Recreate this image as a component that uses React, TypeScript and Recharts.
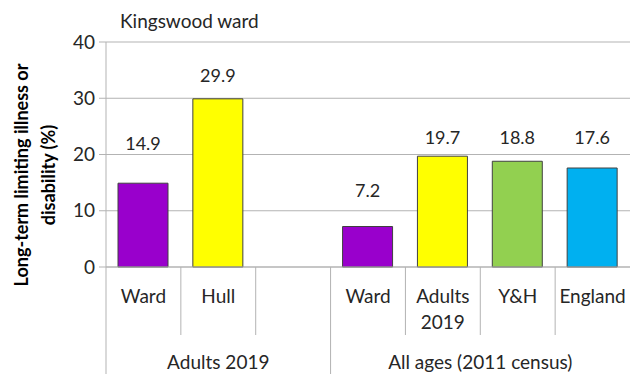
import React from 'react';
import { BarChart, Bar, XAxis, YAxis, CartesianGrid, Cell, LabelList, Label } from 'recharts';

// categories along the x axis ('' is the empty slot between the groups)
const categories = ['Ward', 'Hull', '', 'Ward', 'Adults\n2019', 'Y&H', 'England'];
const values = [14.9, 29.9, null, 7.2, 19.7, 18.8, 17.6];
// where each value label sits (in axis units) - placed by hand in the original
const labelLevels = [22, 34.1, null, 13.7, 23.1, 23.1, 23.1];
const barColors = ['#9900cc', '#ffff00', '#ffffff', '#9900cc', '#ffff00', '#92d050', '#00b0f0'];
const groups = [
    { name: 'Adults 2019', first: 0, size: 3 },
    { name: 'All ages (2011 census)', first: 3, size: 4 },
];
const yTicks = [0, 10, 20, 30, 40];

const W = 630;
const H = 374;
const TOP = 42;
const Y_AXIS_W = 106;
const X_AXIS_H = 107;
const PLOT_BOTTOM = H - X_AXIS_H;
const BAND = (W - Y_AXIS_W) / categories.length;
const FONT = 'Lato, "Open Sans", sans-serif';
const TEXT = '#262626';
const GRID = '#b3b3b3';

const data = categories.map((name, i) => ({ name: `c${i}`, value: values[i], level: labelLevels[i] }));

function CategoryTick(props: any) {
    const { x, payload } = props;
    const i = payload.index ?? props.index;
    const lines = categories[i].split('\n');
    const group = groups.find(g => g.first === i);
    const isLast = i === categories.length - 1;
    const nextStartsGroup = groups.some(g => g.first === i + 1);
    return (
        <g>
            {lines.map((l, k) => (
                <text key={k} x={x} y={295 + k * 26} textAnchor="middle" dominantBaseline="central"
                    fill={TEXT} fontSize={19} fontFamily={FONT}>{l}</text>
            ))}
            {!isLast && !nextStartsGroup && (
                <line x1={x + BAND / 2} x2={x + BAND / 2} y1={PLOT_BOTTOM} y2={335} stroke={GRID} />
            )}
            {group && (
                <>
                    <line x1={x - BAND / 2} x2={x - BAND / 2} y1={PLOT_BOTTOM} y2={H} stroke={GRID} />
                    <text x={x - BAND / 2 + (group.size * BAND) / 2} y={361} textAnchor="middle"
                        dominantBaseline="central" fill={TEXT} fontSize={19} fontFamily={FONT}>{group.name}</text>
                </>
            )}
        </g>
    );
}

function ValueLabel(props: any) {
    const { x, y, width, height, value } = props;
    if (value == null) return null;
    const i = values.indexOf(value);
    const unit = height / value;
    const ly = y + height - (labelLevels[i] ?? value) * unit;
    return (
        <text x={x + width / 2} y={ly} textAnchor="middle" dominantBaseline="central"
            fill={TEXT} fontSize={18} fontFamily={FONT}>{value}</text>
    );
}

export default function App() {
    return (
        <div style={{ position: 'absolute', left: 0, top: 0, width: W, height: H, background: '#fff' }}>
            <div style={{ position: 'absolute', left: 120, top: 9, fontFamily: FONT, fontSize: 19, color: TEXT, lineHeight: '24px' }}>
                Kingswood ward
            </div>
            <BarChart width={W} height={H} data={data} margin={{ top: TOP, right: 0, bottom: 0, left: 0 }}
                barSize={50}>
                <CartesianGrid vertical={false} stroke={GRID} />
                <XAxis dataKey="name" height={X_AXIS_H} axisLine={{ stroke: GRID }} tickLine={false}
                    interval={0} tick={<CategoryTick />} />
                <YAxis width={Y_AXIS_W} domain={[0, 40]} ticks={yTicks} interval={0}
                    axisLine={{ stroke: GRID }} tickLine={{ stroke: GRID }} tickSize={7} tickMargin={4}
                    tick={{ fill: TEXT, fontSize: 19, fontFamily: FONT }}>
                    <Label content={() => (
                        <g transform="translate(0, 175) rotate(-90)">
                            <text x={0} y={28} textAnchor="middle" fontWeight="bold" fontSize={18}
                                fontFamily={FONT} fill="#000">Long-term limiting illness or</text>
                            <text x={0} y={55} textAnchor="middle" fontWeight="bold" fontSize={18}
                                fontFamily={FONT} fill="#000">disability (%)</text>
                        </g>
                    )} />
                </YAxis>
                <Bar dataKey="value" stroke="#404040" strokeWidth={1} isAnimationActive={false}>
                    {data.map((d, i) => <Cell key={i} fill={barColors[i]} />)}
                    <LabelList dataKey="value" content={<ValueLabel />} />
                </Bar>
            </BarChart>
        </div>
    );
}
